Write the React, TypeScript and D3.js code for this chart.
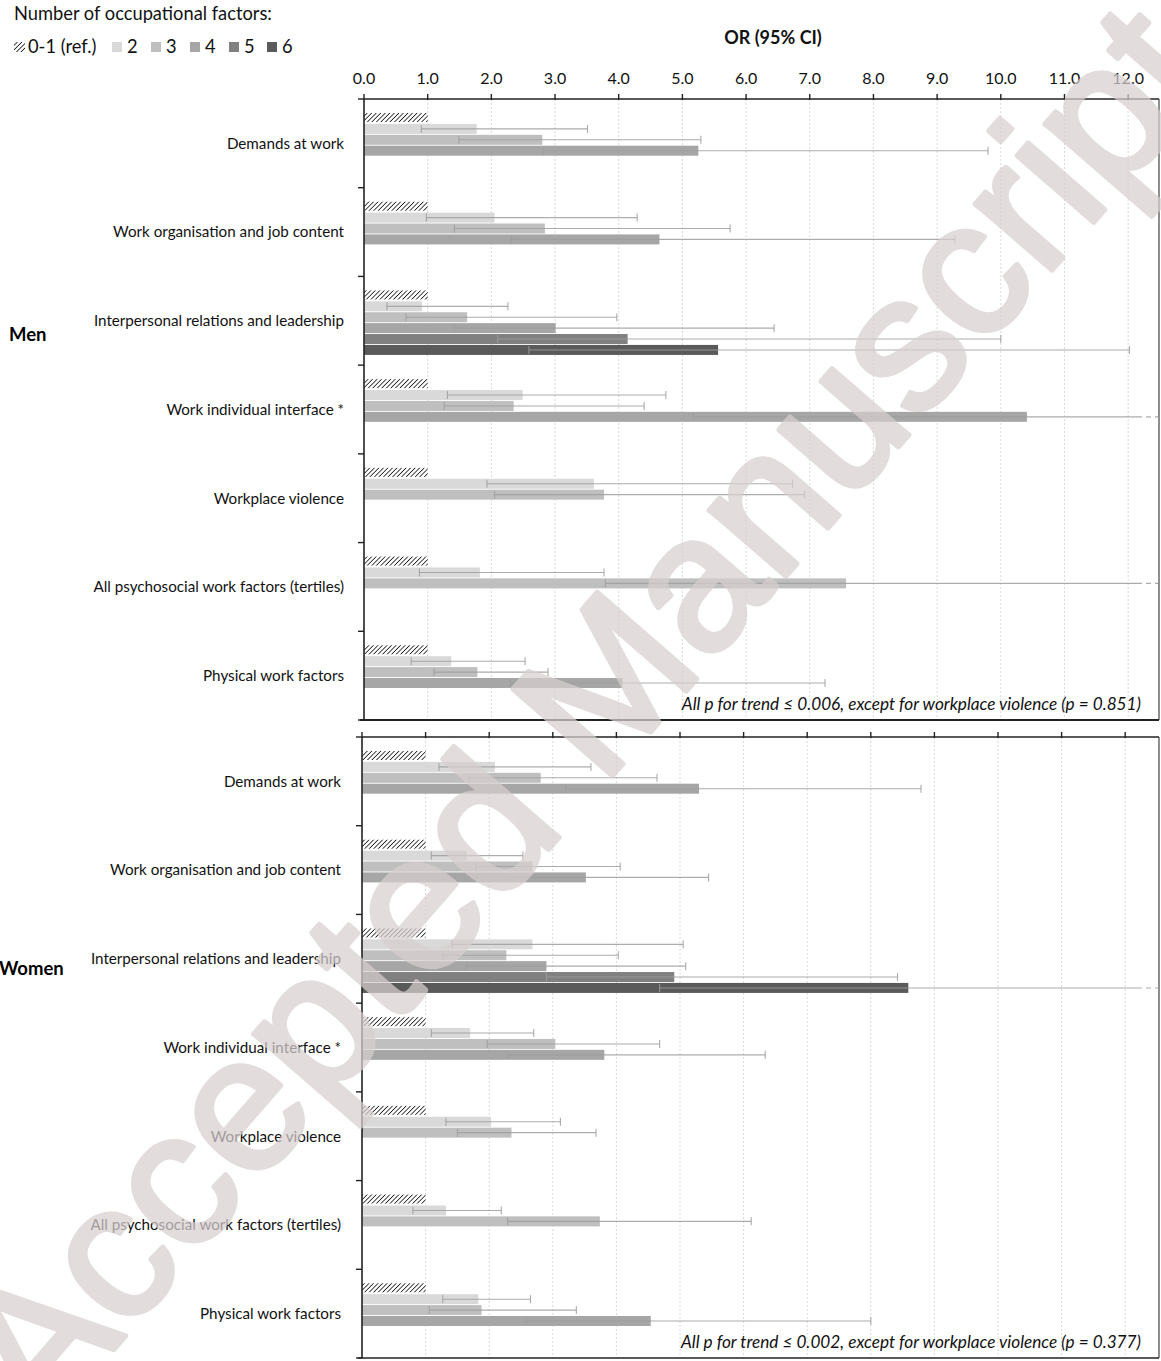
import React from "react";
import * as d3 from "d3";

const categories = [
  "Demands at work",
  "Work organisation and job content",
  "Interpersonal relations and leadership",
  "Work individual interface *",
  "Workplace violence",
  "All psychosocial work factors (tertiles)",
  "Physical work factors",
];
const levels = ["2", "3", "4", "5", "6"];
const levelColors = ["#d9d9d9", "#bfbfbf", "#a6a6a6", "#808080", "#5a5a5a"];
const xTicks = [0, 1, 2, 3, 4, 5, 6, 7, 8, 9, 10, 11, 12];

// Men: OR and 95% CI for levels 2..n (reference 0-1 = 1.0)
const menOR = [
  [1.77, 2.8, 5.25],
  [2.05, 2.84, 4.64],
  [0.91, 1.62, 3.01, 4.14, 5.56],
  [2.49, 2.35, 10.41],
  [3.61, 3.77],
  [1.82, 7.57],
  [1.37, 1.78, 4.06],
];
const menLo = [
  [0.9, 1.49, 2.82],
  [0.98, 1.42, 2.32],
  [0.36, 0.66, 1.41, 2.1, 2.59],
  [1.31, 1.26, 5.17],
  [1.93, 2.05],
  [0.87, 3.79],
  [0.74, 1.1, 2.3],
];
const menHi = [
  [3.51, 5.29, 9.8],
  [4.29, 5.75, 9.28],
  [2.26, 3.97, 6.44, 10.0, 12.02],
  [4.74, 4.4, 21.0],
  [6.73, 6.92],
  [3.77, 15.1],
  [2.53, 2.89, 7.24],
];

// Women
const womenOR = [
  [2.09, 2.81, 5.3],
  [1.65, 2.68, 3.52],
  [2.68, 2.27, 2.9, 4.91, 8.59],
  [1.7, 3.04, 3.81],
  [2.03, 2.35],
  [1.32, 3.74],
  [1.83, 1.88, 4.54],
];
const womenLo = [
  [1.21, 1.69, 3.2],
  [1.09, 1.79, 2.27],
  [1.42, 1.27, 1.64, 2.9, 4.68],
  [1.09, 1.97, 2.3],
  [1.32, 1.5],
  [0.8, 2.29],
  [1.27, 1.06, 2.58],
];
const womenHi = [
  [3.6, 4.64, 8.79],
  [2.53, 4.06, 5.45],
  [5.05, 4.03, 5.09, 8.42, 18.0],
  [2.7, 4.68, 6.34],
  [3.12, 3.68],
  [2.19, 6.12],
  [2.65, 3.37, 8.0],
];

const FONT = "Lato, 'Open Sans', sans-serif";

type PanelCfg = {
  name: string;
  top: number;
  bottom: number;
  x0: number;
  x1: number;
  labelX: number;
  or: number[][];
  lo: number[][];
  hi: number[][];
  note: string;
  noteY: number;
  groupY: number;
  groupX: number;
  showTickLabels: boolean;
};

const panels: PanelCfg[] = [
  {
    name: "Men",
    top: 99,
    bottom: 720,
    x0: 364,
    x1: 1160,
    labelX: 344,
    or: menOR,
    lo: menLo,
    hi: menHi,
    note: "All p for trend \u2264 0.006, except for workplace violence (p = 0.851)",
    noteY: 710,
    groupY: 341,
    groupX: 9,
    showTickLabels: true,
  },
  {
    name: "Women",
    top: 737,
    bottom: 1358,
    x0: 362,
    x1: 1157,
    labelX: 341,
    or: womenOR,
    lo: womenLo,
    hi: womenHi,
    note: "All p for trend \u2264 0.002, except for workplace violence (p = 0.377)",
    noteY: 1348,
    groupY: 975,
    groupX: -1,
    showTickLabels: false,
  },
];

const SLOT = 10.9;
const BAR_H = 10;
const OFFSET = 14;

function Panel({ p }: { p: PanelCfg }) {
  const x = d3.scaleLinear().domain([0, 12.5]).range([p.x0, p.x1]);
  const y = d3.scaleBand<string>().domain(categories).range([p.top, p.bottom]).paddingInner(0);
  const right = 1159;
  const edgeX = right - 22;
  const elems: React.ReactNode[] = [];

  categories.forEach((c, ci) => {
    const y0 = (y(c) as number) + OFFSET;
    elems.push(
      <rect key={`ref-${ci}`} x={x(0)} y={y0} width={x(1) - x(0)} height={BAR_H - 1} fill="url(#hatch)" />
    );
    p.or[ci].forEach((v, li) => {
      const by = y0 + (li + 1) * SLOT;
      elems.push(
        <rect key={`b-${ci}-${li}`} x={x(0)} y={by} width={x(v) - x(0)} height={BAR_H} fill={levelColors[li]} />
      );
      const cy = by + BAR_H / 2;
      const lo = p.lo[ci][li];
      const hi = p.hi[ci][li];
      const over = hi > 12.45;
      const hx = over ? edgeX : x(hi);
      elems.push(
        <g key={`e-${ci}-${li}`} stroke="#9e9e9e" strokeOpacity={0.85} strokeWidth={1.1} fill="none">
          <line x1={x(lo)} x2={hx} y1={cy} y2={cy} />
          <line x1={x(lo)} x2={x(lo)} y1={cy - 4} y2={cy + 4} />
          {over ? (
            <line x1={edgeX} x2={right - 1} y1={cy} y2={cy} strokeDasharray="5,4" />
          ) : (
            <line x1={hx} x2={hx} y1={cy - 4} y2={cy + 4} />
          )}
        </g>
      );
    });
    elems.push(
      <text
        key={`lab-${ci}`}
        x={p.labelX}
        y={(y(c) as number) + y.bandwidth() / 2}
        dy="0.35em"
        textAnchor="end"
        fontSize={15.2}
        fontFamily={FONT}
        fill="#111"
      >
        {c}
      </text>
    );
  });

  return (
    <g>
      {xTicks.slice(1).map((t) => (
        <line
          key={`g-${t}`}
          x1={x(t)}
          x2={x(t)}
          y1={p.top}
          y2={p.bottom}
          stroke="#d9d9d9"
          strokeWidth={1}
          strokeDasharray="2,2"
        />
      ))}
      {elems}
      <line x1={p.x0} x2={right} y1={p.top} y2={p.top} stroke="#222" strokeWidth={1.6} />
      <line x1={p.x0} x2={p.x0} y1={p.top} y2={p.bottom} stroke="#222" strokeWidth={1.6} />
      <line x1={right} x2={right} y1={p.top} y2={p.bottom} stroke="#444" strokeWidth={1.2} />
      <line
        x1={p.x0 - 4}
        x2={right}
        y1={p.bottom}
        y2={p.bottom}
        stroke="#222"
        strokeWidth={p.name === "Men" ? 2.2 : 1.4}
      />
      {xTicks.map((t) => (
        <line key={`t-${t}`} x1={x(t)} x2={x(t)} y1={p.top - 5} y2={p.top + 1} stroke="#222" strokeWidth={1.4} />
      ))}
      {d3.range(categories.length + 1).map((i) => {
        const yy = p.top + i * y.bandwidth();
        return <line key={`yt-${i}`} x1={p.x0 - 6} x2={p.x0} y1={yy} y2={yy} stroke="#222" strokeWidth={1.4} />;
      })}
      {p.showTickLabels &&
        xTicks.map((t) => (
          <text key={`tl-${t}`} x={x(t)} y={84} textAnchor="middle" fontSize={16} fontFamily={FONT} fill="#111">
            {t.toFixed(1)}
          </text>
        ))}
      <text
        x={1141}
        y={p.noteY}
        textAnchor="end"
        fontSize={17.2}
        fontStyle="italic"
        fontFamily={FONT}
        fill="#111"
      >
        {p.note}
      </text>
      <text x={p.groupX} y={p.groupY} fontSize={18.5} fontWeight="bold" fontFamily={FONT} fill="#000">
        {p.name}
      </text>
    </g>
  );
}

export default function App() {
  const legendItems = levels.map((l, i) => ({ l, c: levelColors[i], x: [112, 151, 190, 229, 267][i] }));
  return (
    <svg
      width={1161}
      height={1361}
      viewBox="0 0 1161 1361"
      style={{ position: "absolute", left: 0, top: 0, background: "#fff" }}
    >
      <defs>
        <pattern id="hatch" patternUnits="userSpaceOnUse" width={3.2} height={3.2} patternTransform="rotate(45)">
          <rect width={3.2} height={3.2} fill="#fff" />
          <line x1={0} y1={0} x2={0} y2={3.2} stroke="#1a1a1a" strokeWidth={1.6} />
        </pattern>
      </defs>
      <rect width={1161} height={1361} fill="#fff" />
      <text x={14} y={20} fontSize={18.3} fontFamily={FONT} fill="#111">
        Number of occupational factors:
      </text>
      <rect x={14} y={42} width={11} height={10} fill="url(#hatch)" />
      <text x={28} y={53} fontSize={18.3} fontFamily={FONT} fill="#111">
        0-1 (ref.)
      </text>
      {legendItems.map((it) => (
        <g key={it.l}>
          <rect x={it.x} y={42} width={10} height={10} fill={it.c} />
          <text x={it.x + 15} y={53} fontSize={18.3} fontFamily={FONT} fill="#111">
            {it.l}
          </text>
        </g>
      ))}
      <text x={773} y={44} textAnchor="middle" fontSize={18} fontWeight="bold" fontFamily={FONT} fill="#111">
        OR (95% CI)
      </text>
      {panels.map((p) => (
        <Panel key={p.name} p={p} />
      ))}
      <g opacity={0.72} style={{ pointerEvents: "none" }}>
        <text
          x={580}
          y={712}
          textAnchor="middle"
          dominantBaseline="central"
          fontSize={192}
          fontFamily="'Liberation Sans', Arial, sans-serif"
          fill="#d8cfd0"
          stroke="#d8cfd0"
          strokeWidth={5}
          strokeLinejoin="round"
          transform="rotate(-49 580 712)"
        >
          Accepted Manuscript
        </text>
      </g>
    </svg>
  );
}
